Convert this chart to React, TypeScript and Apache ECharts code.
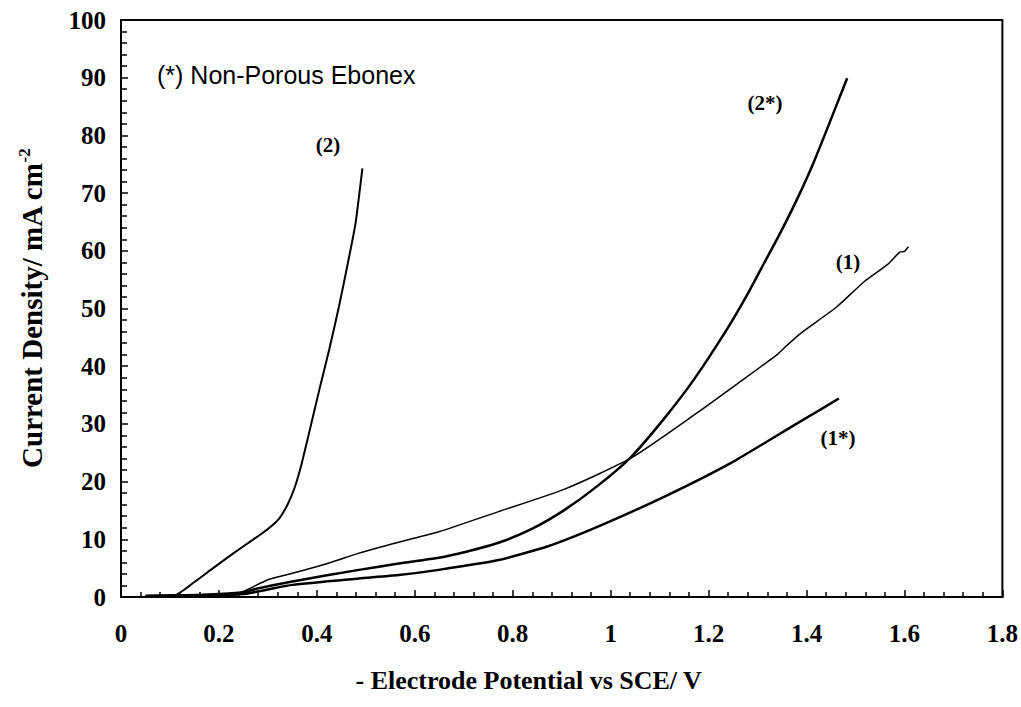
import React, { useEffect, useRef } from "react";
import * as echarts from "echarts";

const xTicks = { min: 0, max: 1.8, interval: 0.2 };
const yTicks = { min: 0, max: 100, interval: 10 };

// Curve (2)
const curve2: [number, number][] = [
  [0.05, 0.1], [0.11, 0.3], [0.15, 2.6], [0.188, 5.0], [0.23, 7.6], [0.269, 9.9],
  [0.3, 11.8], [0.323, 13.6], [0.34, 16.0], [0.354, 18.8], [0.368, 22.8],
  [0.384, 28.4], [0.405, 35.9], [0.425, 42.8], [0.445, 50.3], [0.466, 59.0],
  [0.479, 64.8], [0.493, 74.3],
];
// Curve (1)
const curve1: [number, number][] = [
  [0.05, 0.2], [0.15, 0.4], [0.22, 0.7], [0.248, 0.9], [0.3, 3.0], [0.35, 4.1],
  [0.425, 5.9], [0.486, 7.6], [0.567, 9.5], [0.649, 11.3], [0.771, 14.8],
  [0.906, 18.7], [1.042, 24.1], [1.178, 32.0], [1.266, 37.4], [1.34, 42.0],
  [1.36, 43.6], [1.388, 45.7], [1.462, 50.3], [1.517, 54.6], [1.565, 57.6],
  [1.591, 59.8], [1.6, 59.9], [1.608, 60.7],
];
// Curve (2*)
const curve2s: [number, number][] = [
  [0.05, 0.2], [0.2, 0.4], [0.24, 0.6], [0.28, 1.5], [0.35, 2.7], [0.486, 4.7],
  [0.567, 5.8], [0.649, 6.8], [0.703, 7.8], [0.771, 9.4], [0.839, 11.8],
  [0.906, 15.1], [0.974, 19.3], [1.042, 24.3], [1.11, 31.0], [1.171, 37.8],
  [1.239, 46.6], [1.279, 52.4], [1.313, 57.8], [1.347, 63.2], [1.381, 69.0],
  [1.415, 75.4], [1.449, 82.6], [1.483, 89.9],
];
// Curve (1*)
const curve1s: [number, number][] = [
  [0.05, 0.1], [0.2, 0.3], [0.25, 0.5], [0.3, 1.3], [0.35, 2.1], [0.486, 3.2],
  [0.567, 3.8], [0.649, 4.7], [0.771, 6.4], [0.872, 8.8], [0.974, 12.2],
  [1.11, 17.4], [1.245, 23.2], [1.381, 30.1], [1.415, 31.8], [1.466, 34.4],
];

const curveLabels = ["(2)", "(2*)", "(1)", "(1*)"];
const xName = "- Electrode Potential vs SCE/ V";
const yName = "Current Density/ mA cm";
const note = "(*) Non-Porous Ebonex";

const serif = "'Liberation Serif', 'Times New Roman', serif";
const sans = "'Liberation Sans', Arial, sans-serif";

export default function App() {
  const ref = useRef<HTMLDivElement>(null);
  useEffect(() => {
    if (!ref.current) return;
    const chart = echarts.init(ref.current, undefined, { renderer: "svg" });
    const lineSeries = (name: string, data: [number, number][], w: number) => ({
      name,
      type: "line",
      data,
      showSymbol: false,
      smooth: 0.2,
      lineStyle: { color: "#000", width: w },
      itemStyle: { color: "#000" },
    });
    const labelStyle = (text: string, x: number, y: number) => ({
      type: "text",
      x,
      y,
      style: {
        text,
        font: `bold 21px ${serif}`,
        fill: "#000",
        align: "center",
        verticalAlign: "middle",
      },
    });
    chart.setOption({
      animation: false,
      backgroundColor: "#fff",
      grid: {
        left: 121,
        right: 15,
        top: 20,
        bottom: 110,
        show: true,
        borderColor: "#000",
        borderWidth: 2,
      },
      xAxis: {
        type: "value",
        ...xTicks,
        name: xName,
        nameLocation: "middle",
        nameGap: 70,
        nameTextStyle: {
          fontFamily: serif,
          fontWeight: "bold",
          fontSize: 26,
          color: "#000",
          padding: [0, 66, 0, 0],
        },
        axisLine: { show: true, lineStyle: { color: "#000", width: 2 } },
        axisTick: { show: true, inside: true, length: 7, lineStyle: { color: "#000", width: 1.5 } },
        minorTick: { show: true, splitNumber: 5, length: 5, lineStyle: { color: "#000", width: 1.5 } },
        splitLine: { show: false },
        axisLabel: { margin: 24, fontFamily: serif, fontWeight: "bold", fontSize: 25, color: "#000" },
      },
      yAxis: {
        type: "value",
        ...yTicks,
        name: `{a|${yName}}{b|-2}`,
        nameLocation: "middle",
        nameGap: 73,
        nameRotate: 90,
        nameTextStyle: {
          rich: {
            a: { fontFamily: serif, fontWeight: "bold", fontSize: 29, color: "#000", lineHeight: 32 },
            b: { fontFamily: serif, fontWeight: "bold", fontSize: 17, color: "#000", verticalAlign: "top", lineHeight: 32 },
          },
        },
        axisLine: { show: true, lineStyle: { color: "#000", width: 2 } },
        axisTick: { show: true, inside: true, length: 7, lineStyle: { color: "#000", width: 1.5 } },
        minorTick: { show: true, splitNumber: 5, length: 6, lineStyle: { color: "#000", width: 1.5 } },
        splitLine: { show: false },
        axisLabel: { margin: 15, fontFamily: serif, fontWeight: "bold", fontSize: 25, color: "#000" },
      },
      graphic: [
        {
          type: "text",
          x: 157,
          y: 75,
          style: { text: note, font: `25px ${sans}`, fill: "#000", verticalAlign: "middle" },
        },
        labelStyle(curveLabels[0], 328, 145),
        labelStyle(curveLabels[1], 765, 103),
        labelStyle(curveLabels[2], 848, 262),
        labelStyle(curveLabels[3], 838, 438),
      ],
      series: [
        lineSeries("(2)", curve2, 2),
        lineSeries("(1)", curve1, 1.5),
        lineSeries("(2*)", curve2s, 2.5),
        lineSeries("(1*)", curve1s, 2.5),
      ],
    });
    return () => chart.dispose();
  }, []);
  return (
    <div
      ref={ref}
      style={{ position: "fixed", left: 0, top: 0, width: 1021, height: 707, background: "#fff" }}
    />
  );
}
